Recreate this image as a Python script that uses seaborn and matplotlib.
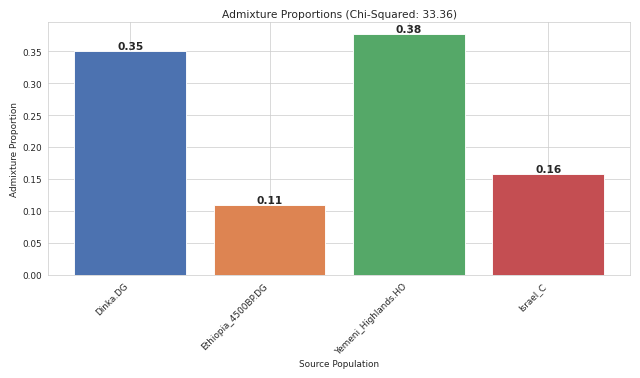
import pandas as pd
import seaborn as sns
import matplotlib.pyplot as plt

# data
populations = ['Dinka.DG', 'Ethiopia_4500BP.DG', 'Yemeni_Highlands.HO', 'Israel_C']
proportions = [0.350, 0.109, 0.377, 0.157]
chi_squared = 33.36

df = pd.DataFrame({'Source Population': populations,
                   'Admixture Proportion': proportions})

# only the style, keep matplotlib's default font sizes
sns.set_style('whitegrid')

fig, ax = plt.subplots(figsize=(10, 5.92), dpi=64)
sns.barplot(data=df, x='Source Population', y='Admixture Proportion',
            hue='Source Population', palette='deep', legend=False,
            saturation=1, ax=ax)

# back to plain matplotlib look: x grid and default margins
ax.grid(True, axis='x')
ax.autoscale(enable=True, axis='x')

# value labels on top of each bar
for bar, val in zip(ax.patches, proportions):
    ax.text(bar.get_x() + bar.get_width() / 2, bar.get_height(),
            f'{val:.2f}', ha='center', va='bottom',
            fontsize=12, fontweight='bold')

ax.set_title(f'Admixture Proportions (Chi-Squared: {chi_squared:.2f})')
ax.set_xlabel('Source Population')
ax.set_ylabel('Admixture Proportion')
plt.xticks(rotation=45, ha='right')

plt.tight_layout()
plt.savefig('out.png', dpi=64)
